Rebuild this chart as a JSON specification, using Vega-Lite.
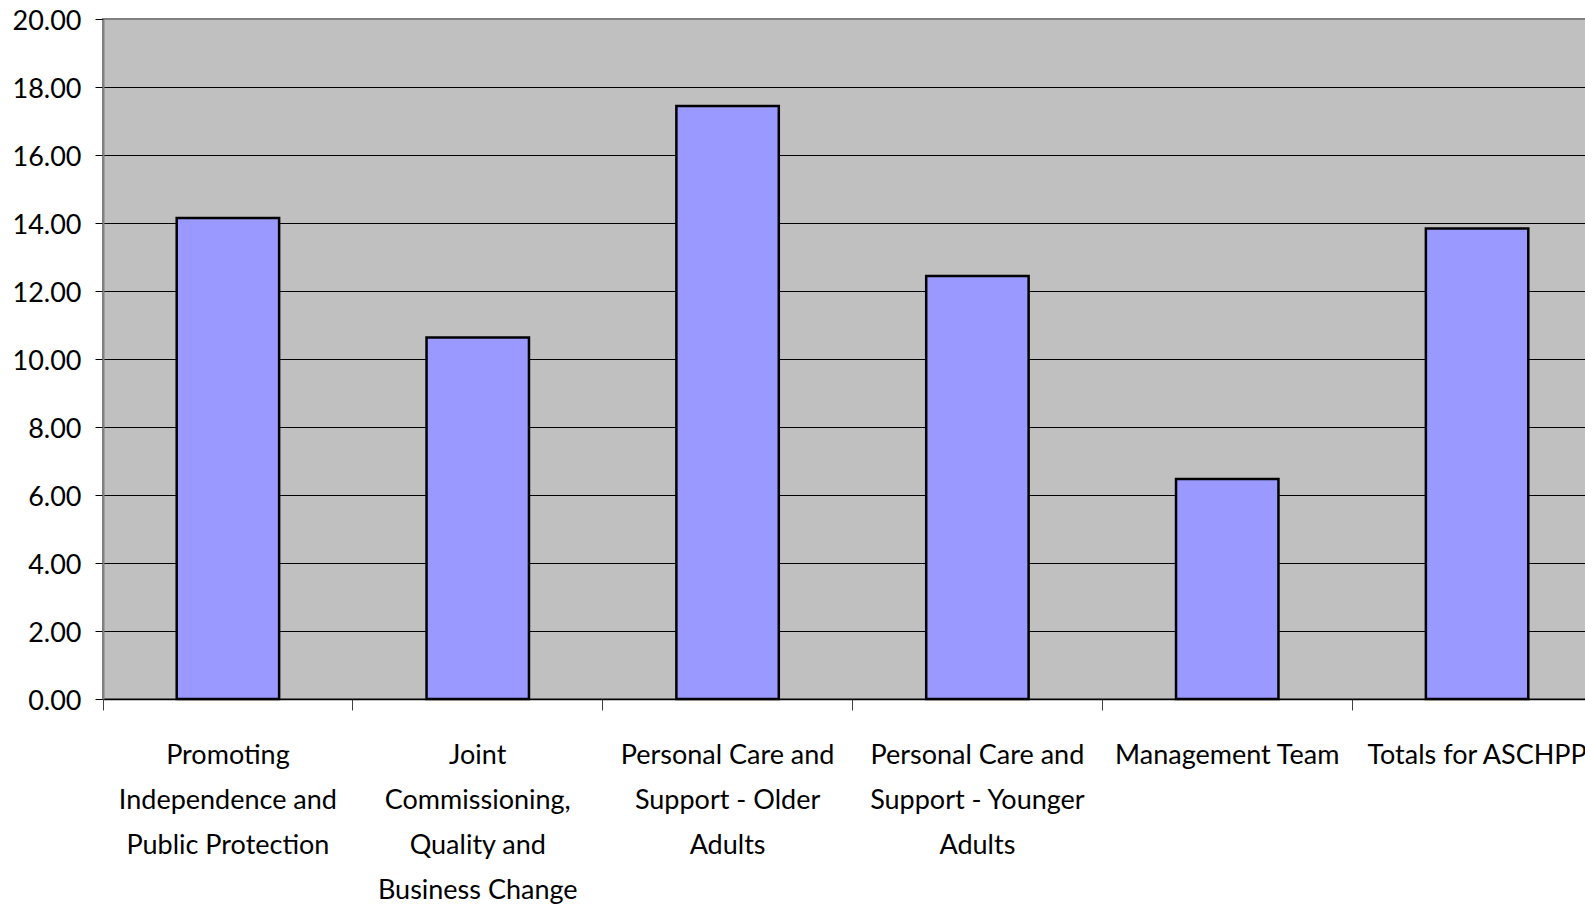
{
  "$schema": "https://vega.github.io/schema/vega-lite/v6.json",
  "width": 1499,
  "height": 680,
  "autosize": {"type": "none"},
  "padding": {"left": 103, "top": 19, "right": 0, "bottom": 208},
  "background": "white",
  "config": {
    "view": {"fill": "#c0c0c0", "stroke": "#808080", "strokeWidth": 2},
    "axis": {"labelFont": "Lato", "labelColor": "black", "labelFontSize": 27}
  },
  "data": {
    "values": [
      {"category": "Promoting|Independence and|Public Protection", "value": 14.15},
      {"category": "Joint|Commissioning,|Quality and|Business Change", "value": 10.63},
      {"category": "Personal Care and|Support - Older|Adults", "value": 17.44},
      {"category": "Personal Care and|Support - Younger|Adults", "value": 12.44},
      {"category": "Management Team", "value": 6.47},
      {"category": "Totals for ASCHPP", "value": 13.84}
    ]
  },
  "mark": {"type": "bar", "color": "#9999ff", "stroke": "black", "strokeWidth": 2.5, "width": {"band": 0.41}},
  "encoding": {
    "x": {
      "field": "category",
      "type": "nominal",
      "sort": null,
      "scale": {"paddingInner": 0, "paddingOuter": 0},
      "axis": {
        "title": null,
        "labelAngle": 0,
        "labelExpr": "split(datum.label, '|')",
        "labelLineHeight": 45,
        "labelPadding": 32,
        "labelBaseline": "top",
        "bandPosition": 0,
        "tickSize": 11,
        "tickColor": "#404040",
        "domainColor": "black",
        "domainWidth": 1.5,
        "labelLimit": 400
      }
    },
    "y": {
      "field": "value",
      "type": "quantitative",
      "scale": {"domain": [0, 20], "nice": false},
      "axis": {
        "title": null,
        "values": [0, 2, 4, 6, 8, 10, 12, 14, 16, 18, 20],
        "format": ".2f",
        "tickSize": 8,
        "tickColor": "black",
        "labelPadding": 14,
        "labelOffset": 2,
        "domainColor": "#808080",
        "domainWidth": 2,
        "gridColor": {"condition": {"test": "datum.value == 20", "value": "#808080"}, "value": "black"},
        "gridOpacity": 1,
        "gridWidth": 1
      }
    }
  }
}
